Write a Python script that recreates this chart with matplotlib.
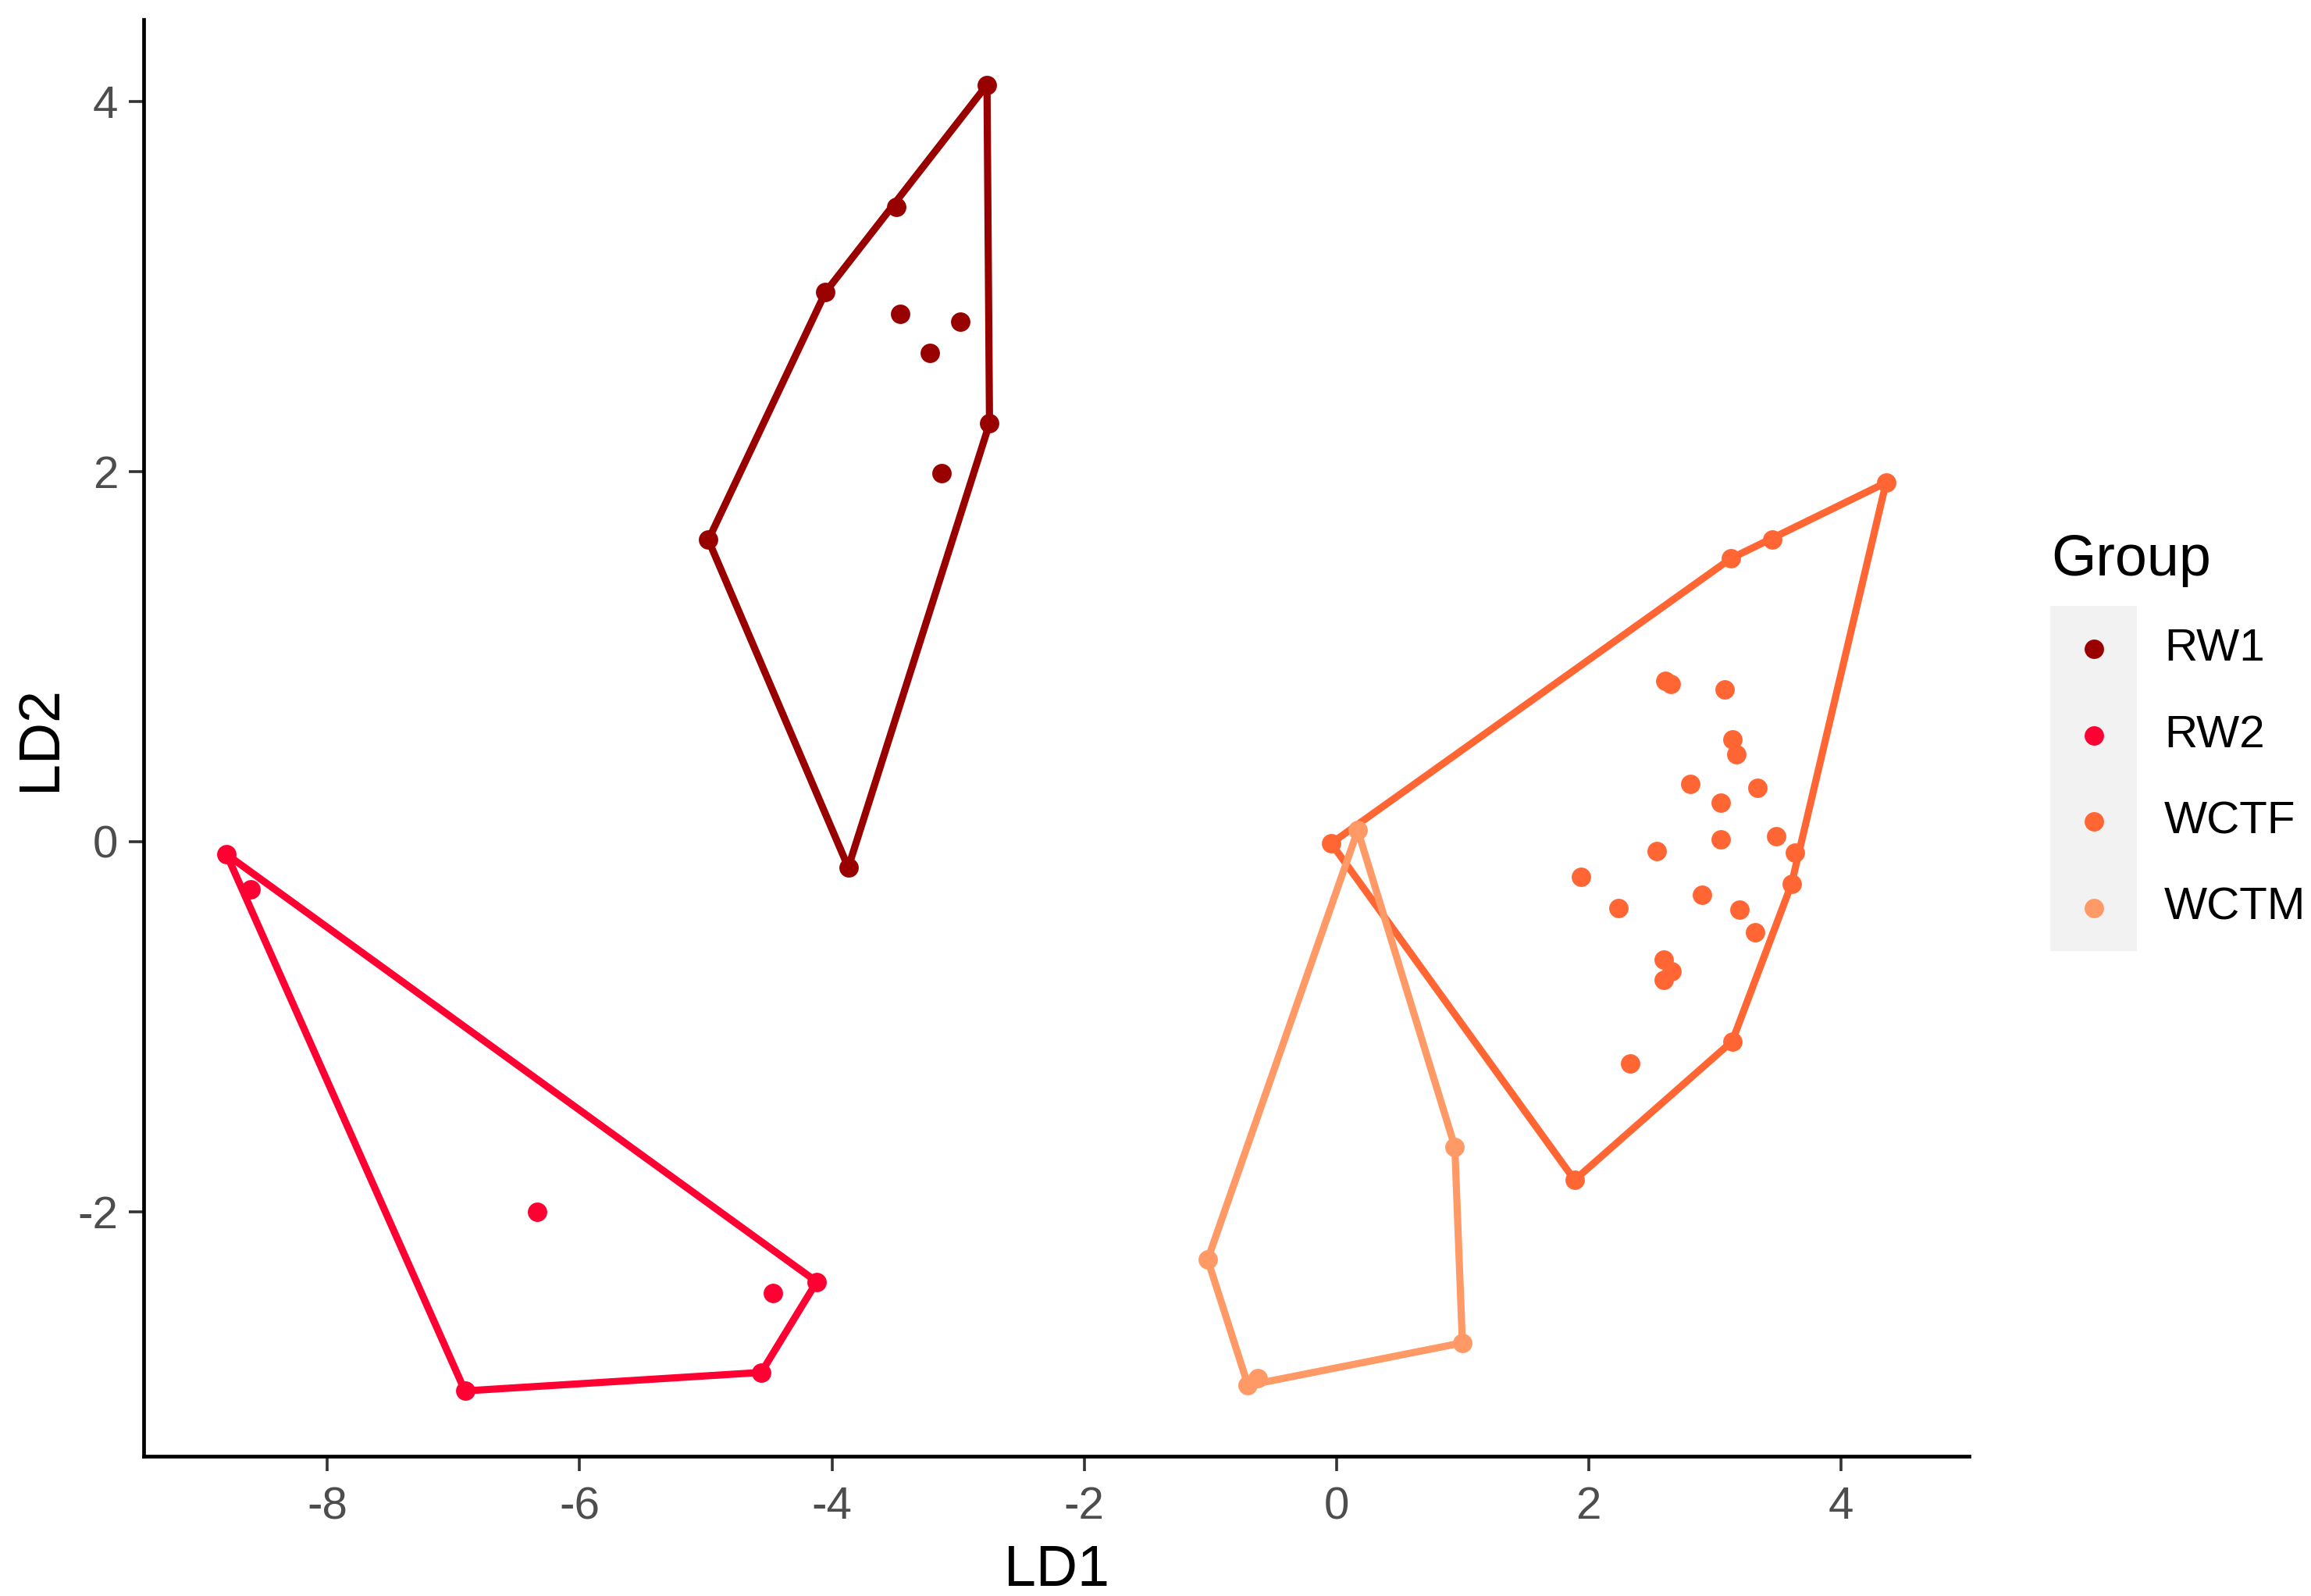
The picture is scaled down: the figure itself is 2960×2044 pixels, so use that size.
import numpy as np
import matplotlib
matplotlib.use("Agg")
import matplotlib.pyplot as plt

plt.rcParams['font.family'] = ['Liberation Sans', 'DejaVu Sans']
plt.rcParams['axes.unicode_minus'] = False

# LD scores
groups = ['RW1', 'RW2', 'WCTF', 'WCTM']
colors = ['#990000', '#FF0033', '#FF6633', '#FF9966']

rw1_x = [-2.77, -2.75, -3.87, -4.98, -4.05, -3.49, -3.46, -2.98, -3.22, -3.13]
rw1_y = [4.09, 2.26, -0.14, 1.63, 2.97, 3.43, 2.85, 2.81, 2.64, 1.99]

rw2_x = [-8.80, -8.61, -4.12, -4.47, -6.34, -4.56, -6.91]
rw2_y = [-0.07, -0.26, -2.38, -2.44, -2.00, -2.87, -2.97]

wctf_x = [-0.04, 4.36, 3.46, 3.13, 3.64, 3.61, 3.14, 1.89, 2.65, 2.61, 3.08, 3.14,
          3.17, 2.81, 3.34, 3.05, 3.49, 3.05, 2.54, 1.94, 2.24, 2.90, 3.20, 3.32,
          2.60, 2.66, 2.60, 2.33]
wctf_y = [-0.01, 1.94, 1.63, 1.53, -0.06, -0.23, -1.08, -1.83, 0.85, 0.87, 0.82, 0.55,
          0.47, 0.31, 0.29, 0.21, 0.03, 0.01, -0.05, -0.19, -0.36, -0.29, -0.37, -0.49,
          -0.64, -0.70, -0.75, -1.20]

wctm_x = [0.17, 0.94, 1.00, -0.62, -0.70, -1.02]
wctm_y = [0.06, -1.65, -2.71, -2.90, -2.94, -2.26]

xs = [rw1_x, rw2_x, wctf_x, wctm_x]
ys = [rw1_y, rw2_y, wctf_y, wctm_y]

x_ticks = [-8, -6, -4, -2, 0, 2, 4]
y_ticks = [-2, 0, 2, 4]


def convex_hull(px, py):
    pts = sorted(set(zip(px, py)))
    if len(pts) < 3:
        return pts

    def cross(o, a, b):
        return (a[0] - o[0]) * (b[1] - o[1]) - (a[1] - o[1]) * (b[0] - o[0])

    lower = []
    for p in pts:
        while len(lower) >= 2 and cross(lower[-2], lower[-1], p) <= 0:
            lower.pop()
        lower.append(p)
    upper = []
    for p in reversed(pts):
        while len(upper) >= 2 and cross(upper[-2], upper[-1], p) <= 0:
            upper.pop()
        upper.append(p)
    return lower[:-1] + upper[:-1]


W, H, DPI = 2960, 2044, 200
fig = plt.figure(figsize=(W / DPI, H / DPI), dpi=DPI)
ax = fig.add_axes([184 / W, 179 / H, (2522 - 184) / W, (1865 - 25) / H])

for gx, gy, col in zip(xs, ys, colors):
    ax.scatter(gx, gy, s=80, color=col, linewidths=0, zorder=3)
    hull = convex_hull(gx, gy)
    hx = [p[0] for p in hull] + [hull[0][0]]
    hy = [p[1] for p in hull] + [hull[0][1]]
    ax.plot(hx, hy, color=col, lw=3.3, solid_joinstyle='round', zorder=2)

# ggplot-style 5% expansion
all_x = np.concatenate([np.array(v) for v in xs])
all_y = np.concatenate([np.array(v) for v in ys])
dx = (all_x.max() - all_x.min()) * 0.05
dy = (all_y.max() - all_y.min()) * 0.05
ax.set_xlim(all_x.min() - dx, all_x.max() + dx)
ax.set_ylim(all_y.min() - dy, all_y.max() + dy)

ax.set_xticks(x_ticks)
ax.set_yticks(y_ticks)
ax.set_xticklabels([str(t) for t in x_ticks])
ax.set_yticklabels([str(t) for t in y_ticks])
ax.tick_params(axis='both', length=6.7, width=1.3, color='#333333',
               labelcolor='#4D4D4D', labelsize=21)
ax.tick_params(axis='x', pad=7)
ax.tick_params(axis='y', pad=5)
for side in ['top', 'right']:
    ax.spines[side].set_visible(False)
for side in ['left', 'bottom']:
    ax.spines[side].set_linewidth(1.7)
    ax.spines[side].set_color('black')

ax.set_xlabel('LD1', fontsize=26.5, color='black', labelpad=7)
ax.set_ylabel('LD2', fontsize=26.5, color='black', labelpad=5)

# legend drawn as its own little axes
lax = fig.add_axes([2626 / W, (H - 1218) / H, 111 / W, 442 / H])
lax.set_xlim(0, 1)
lax.set_ylim(0, 4)
lax.set_facecolor('#F2F2F2')
for s in lax.spines.values():
    s.set_visible(False)
lax.set_xticks([])
lax.set_yticks([])
for i, (g, col) in enumerate(zip(groups, colors)):
    yy = 3.5 - i
    lax.scatter([0.5], [yy], s=80, color=col, linewidths=0, clip_on=False)
    lax.text(1.315, yy, g, fontsize=21, color='black', va='center', ha='left',
             clip_on=False)
lax.text(0.01, 4.353, 'Group', fontsize=26.5, color='black', va='baseline',
         ha='left', clip_on=False)

fig.savefig('out.png', dpi=DPI, facecolor='white')
